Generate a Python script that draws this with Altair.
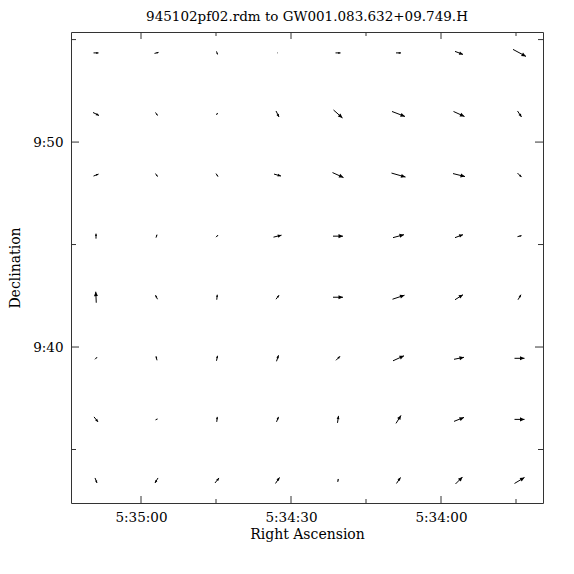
import math
import altair as alt
import pandas as pd

# ---------------- data ----------------
title_text = "945102pf02.rdm to GW001.083.632+09.749.H"

# grid centres: RA in seconds of time after 5:33:00, Dec in arcmin after 9:00
ra_centers = [129.0, 116.9, 104.8, 92.7, 80.6, 68.5, 56.4, 44.3]
dec_centers = [54.35, 51.37, 48.39, 45.41, 42.43, 39.45, 36.47, 33.49]

# vector components as drawn (rightward, downward), one list per Dec row (top to bottom)
vec_right = [
    [5, 4, 1, 0.5, 5, 5, 8, 13],
    [6, 2, 1, 3, 9, 13, 11, 4],
    [5, 2, 2, 7, 11, 14, 12, 4],
    [0, 1, 2, 8, 10, 11, 8, 4],
    [-0.5, -2, 0.5, 3, 10, 12, 8, 3],
    [2, -1, 1, 2, 4, 11, 10, 10],
    [4, 2, 0.5, 2, 1, 5, 10, 10],
    [2, -3, 4, 4, 0.5, 4, 7, 10],
]
vec_down = [
    [0, -1, 3, 0, 0, 0, 3, 7],
    [3, 3, -2, 6, 8, 5, 5, 6],
    [-2, 3, 3, 2, 5, 4, 3, 4],
    [-5, -3, -2, -2, 0, -3, -3, -1],
    [-11, -4, -5, -4, 0, -4, -5, -5],
    [-2, -4, -5, -6, -4, -5, -2, 0],
    [5, -1, -5, -5, -7, -8, -4, 0],
    [5, 5, -5, -6, -3, -6, -7, -6],
]

ra_tick_values = [120, 90, 60]
ra_tick_labels = ["5:35:00", "5:34:30", "5:34:00"]
ra_minor_values = [105, 75, 45]
dec_tick_values = [50, 40]
dec_tick_labels = ["9:50", "9:40"]
dec_minor_values = [55, 45, 35]

ra_domain = [134.0, 39.6]
dec_domain = [32.39, 55.37]

# ---------------- layout ----------------
W, H = 472, 471
px_per_s = W / (ra_domain[0] - ra_domain[1])
px_per_arcmin = H / (dec_domain[1] - dec_domain[0])

rows = []
for i, dec in enumerate(dec_centers):
    for j, ra in enumerate(ra_centers):
        dx = vec_right[i][j]
        dy = vec_down[i][j]
        d_ra = -dx / px_per_s
        d_dec = -dy / px_per_arcmin
        length = math.hypot(dx, dy)
        ang = (math.degrees(math.atan2(dy, dx)) + 360) % 360
        hl = min(4.5, 0.45 * length)
        rows.append(dict(
            x1=ra - d_ra / 2, y1=dec - d_dec / 2,
            x2=ra + d_ra / 2, y2=dec + d_dec / 2,
            ang=ang, hs=(2 * hl) ** 2,
        ))
df = pd.DataFrame(rows)

xs = alt.Scale(domain=ra_domain, nice=False, zero=False)
ys = alt.Scale(domain=dec_domain, nice=False, zero=False)

ra_expr = " : ".join(
    f"datum.value == {v} ? '{l}'" for v, l in zip(ra_tick_values, ra_tick_labels)
) + " : ''"
dec_expr = " : ".join(
    f"datum.value == {v} ? '{l}'" for v, l in zip(dec_tick_values, dec_tick_labels)
) + " : ''"

FONT = "DejaVu Serif"
TC = "#333333"

x_axis = alt.Axis(
    values=ra_tick_values, labelExpr=ra_expr, title="Right Ascension",
    ticks=False, domain=False, grid=False, labelPadding=7, titlePadding=4,
    labelFont=FONT, titleFont=FONT, labelFontSize=13.5, titleFontSize=14,
    titleFontWeight="normal", labelColor="black", titleColor="black")
y_axis = alt.Axis(
    values=dec_tick_values, labelExpr=dec_expr, title="Declination",
    ticks=False, domain=False, grid=False, labelPadding=8, titlePadding=10,
    labelFont=FONT, titleFont=FONT, labelFontSize=13.5, titleFontSize=14,
    titleFontWeight="normal", labelColor="black", titleColor="black")

shafts = alt.Chart(df).mark_rule(color="black", strokeWidth=1).encode(
    x=alt.X("x1:Q", scale=xs, axis=x_axis),
    y=alt.Y("y1:Q", scale=ys, axis=y_axis),
    x2="x2:Q",
    y2="y2:Q",
)

heads = alt.Chart(df).mark_point(
    shape="M0,0L-1,-0.45L-1,0.45Z", filled=True, color="black", opacity=1, strokeWidth=0
).encode(
    x=alt.X("x2:Q", scale=xs, axis=x_axis),
    y=alt.Y("y2:Q", scale=ys, axis=y_axis),
    angle=alt.Angle("ang:Q", scale=None),
    size=alt.Size("hs:Q", scale=None),
)

ticks_x = pd.DataFrame(
    [dict(v=v, major=1) for v in ra_tick_values] + [dict(v=v, major=0) for v in ra_minor_values]
)
ticks_y = pd.DataFrame(
    [dict(v=v, major=1) for v in dec_tick_values] + [dict(v=v, major=0) for v in dec_minor_values]
)


def xticks(major, top):
    d = ticks_x[ticks_x.major == (1 if major else 0)]
    L = 7 if major else 4
    y0, y1 = (0, L) if top else (H, H - L)
    return alt.Chart(d).mark_rule(color=TC, strokeWidth=1).encode(
        x=alt.X("v:Q", scale=xs, axis=x_axis), y=alt.value(y0), y2=alt.value(y1))


def yticks(major, right):
    d = ticks_y[ticks_y.major == (1 if major else 0)]
    L = 8 if major else 5
    x0, x1 = (W, W - L) if right else (0, L)
    return alt.Chart(d).mark_rule(color=TC, strokeWidth=1).encode(
        y=alt.Y("v:Q", scale=ys, axis=y_axis), x=alt.value(x0), x2=alt.value(x1))


tick_layers = [xticks(m, t) for m in (True, False) for t in (True, False)] + \
              [yticks(m, r) for m in (True, False) for r in (True, False)]

chart = alt.layer(shafts, heads, *tick_layers).properties(
    width=W, height=H,
    title=alt.TitleParams(title_text, font=FONT, fontSize=13.5, fontWeight="normal",
                          color="black", offset=8, anchor="middle"),
    autosize=alt.AutoSizeParams(type="none"),
    padding={"left": 63, "top": 24, "right": 23, "bottom": 63},
    background="white",
).configure_view(stroke=TC, strokeWidth=1)

chart.save("out.html", embed_options={"renderer": "svg", "actions": False})
